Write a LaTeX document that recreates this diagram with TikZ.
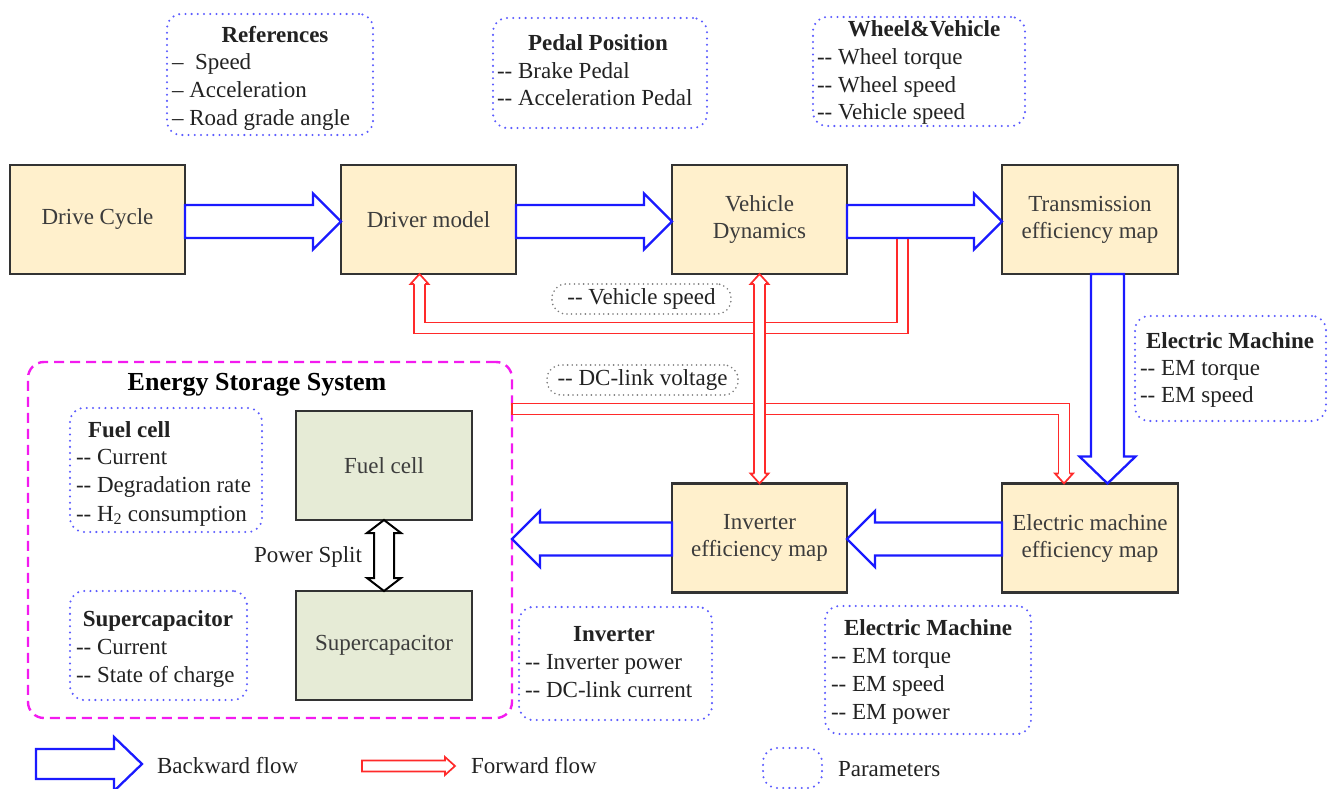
\documentclass[tikz,border=0pt]{standalone}
\usepackage{fontspec}
\setmainfont{Liberation Serif}
\usetikzlibrary{calc}
\definecolor{boxfill}{HTML}{FFF0CC}
\definecolor{boxdraw}{HTML}{333333}
\definecolor{gfill}{HTML}{E6EBD6}
\definecolor{bluearr}{HTML}{1A1AFF}
\definecolor{bluedot}{HTML}{5C5CFF}
\definecolor{redarr}{HTML}{FF2A2A}
\definecolor{essmag}{HTML}{F31BEF}
\definecolor{graydot}{HTML}{7A7A7A}
\definecolor{txtbox}{HTML}{3C3C3C}
\definecolor{txtpar}{HTML}{222222}
\newcommand\bxfont{\fontsize{23}{27}\selectfont}
\newcommand\pfont{\fontsize{23}{27}\selectfont}
\newcommand\bArrowRight[3]{%
  \coordinate (by) at (0,#3);
  \draw[blockarrow] ($(#1.east |- by)+(0,-16.5)$) -- ($(#2.west |- by)+(-28,-16.5)$) -- ($(#2.west |- by)+(-28,-28)$) -- (#2.west |- by) -- ($(#2.west |- by)+(-28,28)$) -- ($(#2.west |- by)+(-28,16.5)$) -- ($(#1.east |- by)+(0,16.5)$) -- cycle;}
\newcommand\bArrowLeft[3]{%
  \coordinate (by) at (0,#3);
  \draw[blockarrow] ($(#1.west |- by)+(0,-16.5)$) -- ($(#2.east |- by)+(28,-16.5)$) -- ($(#2.east |- by)+(28,-28)$) -- (#2.east |- by) -- ($(#2.east |- by)+(28,28)$) -- ($(#2.east |- by)+(28,16.5)$) -- ($(#1.west |- by)+(0,16.5)$) -- cycle;}
\newcommand\rHeadUp[1]{\draw[redhead] ($(#1)+(-5.5,10)$) -- ($(#1)+(-9,10)$) -- (#1) -- ($(#1)+(9,10)$) -- ($(#1)+(5.5,10)$);}
\newcommand\rHeadDown[1]{\draw[redhead] ($(#1)+(-5.5,-10)$) -- ($(#1)+(-9,-10)$) -- (#1) -- ($(#1)+(9,-10)$) -- ($(#1)+(5.5,-10)$);}
\newcommand\plines[5]{%
  \foreach \ptxt [count=\pli] in {#5} {\node[ptext, anchor=base west] (#1-\pli) at (#2, {#3+(\pli-1)*#4}) {\ptxt};}}
\begin{document}
\begin{tikzpicture}[x=1pt,y=-1pt,
  blk/.style={draw=boxdraw, line width=2.2pt, fill=boxfill, minimum width=175pt, minimum height=109pt, inner sep=0pt, outer sep=0pt, align=center, font=\bxfont, text=txtbox},
  gblk/.style={blk, fill=gfill},
  parbox/.style={draw=bluedot, line width=2.3pt, dash pattern=on 0pt off 6.2pt, line cap=round, rounded corners=14pt, inner sep=0pt, outer sep=0pt},
  graylbl/.style={draw=graydot, line width=1.8pt, dash pattern=on 0pt off 4.6pt, line cap=round, rounded corners=14pt, font=\pfont, text=txtpar, inner sep=0pt, outer sep=0pt, minimum height=30pt},
  essbox/.style={draw=essmag, line width=2.4pt, dash pattern=on 10pt off 6pt, rounded corners=16pt, inner sep=0pt, outer sep=0pt},
  ptext/.style={font=\pfont, text=txtpar, inner sep=0pt, outer sep=0pt},
  ptitle/.style={font=\pfont\bfseries, text=txtpar, inner sep=0pt, outer sep=0pt, anchor=base},
  blockarrow/.style={draw=bluearr, line width=2.3pt, fill=white, line join=miter},
  redpipe/.style={draw=redarr, line width=1.7pt, double=white, double distance=9.2pt, line join=miter},
  redhead/.style={draw=redarr, line width=1.7pt, fill=white, line join=miter},
  redline/.style={draw=redarr, line width=1.7pt, line join=miter},
  psplit/.style={draw=black, line width=2pt, fill=white, line join=miter}
]
\useasboundingbox (0,0) rectangle (1336,789);

% Energy storage system frame
\node[essbox, minimum width=484pt, minimum height=356pt] (ess) at (270,540) {};
\node[font=\fontsize{26}{30}\selectfont\bfseries, text=black, anchor=base, inner sep=0pt] (esst) at (257,390) {Energy Storage System};

% parameter boxes
\node[parbox, minimum width=206pt, minimum height=121pt] (refbox) at (270,74.5) {};
\node[ptitle] (reft) at (275,43) {References};
\plines{refl}{172}{70}{28}{\textendash\ \ Speed, \textendash\ Acceleration, \textendash\ Road grade angle}

\node[parbox, minimum width=214pt, minimum height=110pt] (pedbox) at (600,73) {};
\node[ptitle] (pedt) at (598,51) {Pedal Position};
\plines{pedl}{497}{79}{27}{-{}- Brake Pedal, -{}- Acceleration Pedal}

\node[parbox, minimum width=212pt, minimum height=109pt] (wvbox) at (919,71.5) {};
\node[ptitle] (wvt) at (924,37) {Wheel\&Vehicle};
\plines{wvl}{817}{65}{27.5}{-{}- Wheel torque, -{}- Wheel speed, -{}- Vehicle speed}

\node[parbox, minimum width=191pt, minimum height=105pt] (emrbox) at (1230.5,368.5) {};
\node[ptitle] (emrt) at (1230,348) {Electric Machine};
\plines{emrl}{1140}{375}{27}{-{}- EM torque, -{}- EM speed}

\node[parbox, minimum width=192pt, minimum height=124pt] (fcpbox) at (166,470) {};
\node[ptitle, anchor=base west] (fcpt) at (88,437) {Fuel cell};
\plines{fcpl}{76}{464}{28.5}{-{}- Current, -{}- Degradation rate, -{}- H\textsubscript{2} consumption}

\node[parbox, minimum width=177pt, minimum height=109pt] (scpbox) at (158.5,645.5) {};
\node[ptitle] (scpt) at (158,626) {Supercapacitor};
\plines{scpl}{76}{654}{28.5}{-{}- Current, -{}- State of charge}

\node[parbox, minimum width=193pt, minimum height=113pt] (invpbox) at (615.5,663.5) {};
\node[ptitle] (invpt) at (614,641) {Inverter};
\plines{invpl}{525}{669}{28}{-{}- Inverter power, -{}- DC-link current}

\node[parbox, minimum width=206pt, minimum height=128pt] (emdbox) at (928,670) {};
\node[ptitle] (emdt) at (928,635) {Electric Machine};
\plines{emdl}{831}{663}{28}{-{}- EM torque, -{}- EM speed, -{}- EM power}

% main blocks
\node[blk] (dc) at (97.5,219.5) {Drive Cycle};
\node[blk] (dm) at (428.5,219.5) {Driver model};
\node[blk] (vd) at (759.5,219.5) {Vehicle\\Dynamics};
\node[blk, minimum width=176pt] (tr) at (1090,219.5) {Transmission\\efficiency map};
\node[blk] (inv) at (759.5,538) {Inverter\\efficiency map};
\node[blk, minimum width=176pt] (em) at (1090,538) {Electric machine\\efficiency map};
\node[gblk, minimum width=176pt] (fc) at (384,465.5) {Fuel cell};
\node[gblk, minimum width=176pt] (sc) at (384,645.5) {Supercapacitor};

% signal labels
\node[graylbl, minimum width=179pt] (vslbl) at (641.5,299) {-{}- Vehicle speed};
\node[graylbl, minimum width=191pt] (dclbl) at (642.5,380) {-{}- DC-link voltage};

% forward flow (red)
\coordinate (vsstart) at (902.5,238);
\coordinate (vsx) at (419.5,0);
\draw[redpipe] (vsstart) -- (902.5,328) -| ($(dm.south -| vsx)+(0,10)$);
\rHeadUp{dm.south -| vsx}
\coordinate (dcy) at (0,409);
\coordinate (dcx) at (1064,0);
\draw[redpipe] (ess.east |- dcy) -- (dcx |- dcy) -- ($(em.north -| dcx)+(0,-10)$);
\draw[redline] ($(ess.east |- dcy)+(0,-6.3)$) -- ($(ess.east |- dcy)+(0,6.3)$);
\rHeadDown{em.north -| dcx}
\draw[redpipe] ($(vd.south)+(0,10)$) -- ($(inv.north)+(0,-10)$);
\rHeadUp{vd.south}
\rHeadDown{inv.north}

% backward flow (blue)
\bArrowRight{dc}{dm}{221.5}
\bArrowRight{dm}{vd}{221.5}
\bArrowRight{vd}{tr}{221.5}
\coordinate (bx) at (1107.5,0);
\draw[blockarrow] ($(tr.south -| bx)+(-16.5,0)$) -- ($(em.north -| bx)+(-16.5,-27)$) -- ($(em.north -| bx)+(-28,-27)$) -- (em.north -| bx) -- ($(em.north -| bx)+(28,-27)$) -- ($(em.north -| bx)+(16.5,-27)$) -- ($(tr.south -| bx)+(16.5,0)$) -- cycle;
\bArrowLeft{em}{inv}{539}
\bArrowLeft{inv}{ess}{539}

% power split
\draw[psplit] (fc.south) -- ($(fc.south)+(17,13)$) -- ($(fc.south)+(10,13)$) -- ($(sc.north)+(10,-13)$) -- ($(sc.north)+(17,-13)$) -- (sc.north) -- ($(sc.north)+(-17,-13)$) -- ($(sc.north)+(-10,-13)$) -- ($(fc.south)+(-10,13)$) -- ($(fc.south)+(-17,13)$) -- cycle;
\node[ptext, anchor=base east] (ps) at (362,562) {Power Split};

% legend
\draw[blockarrow] (36,749) -- (114,749) -- (114,737) -- (142,764) -- (114,791) -- (114,779) -- (36,779) -- cycle;
\node[ptext, anchor=base west] (lgb) at (157,773) {Backward flow};
\draw[redhead] (362,760.5) -- (445,760.5) -- (445,757) -- (455,766) -- (445,775) -- (445,771.5) -- (362,771.5) -- cycle;
\node[ptext, anchor=base west] (lgf) at (471,773) {Forward flow};
\node[parbox, minimum width=59pt, minimum height=40pt] (lgpbox) at (792.5,768) {};
\node[ptext, anchor=base west] (lgp) at (838,776) {Parameters};
\end{tikzpicture}
\end{document}
